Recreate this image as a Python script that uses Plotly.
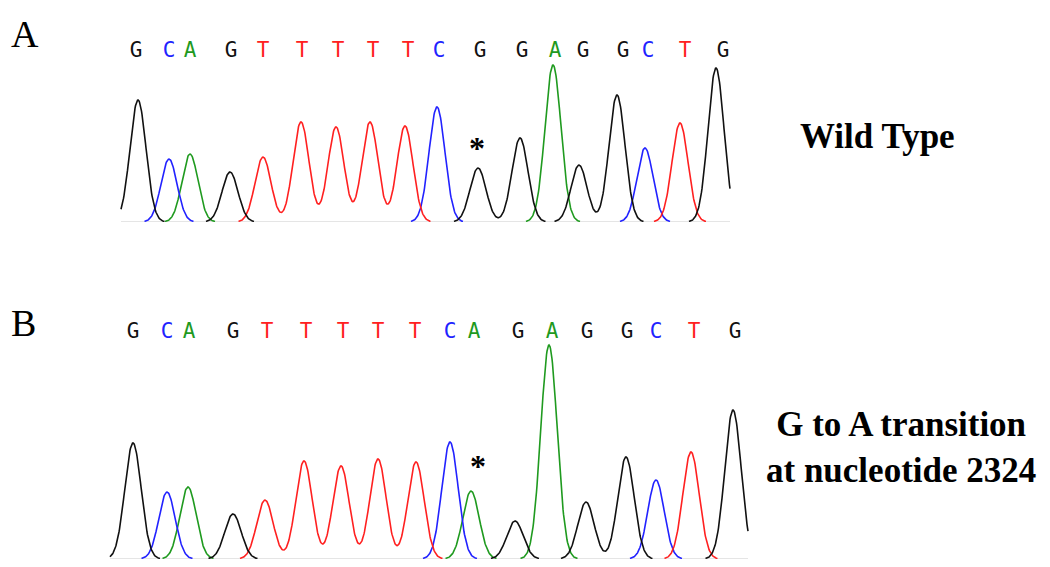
import numpy as np
import plotly.graph_objects as go

# panel A: wild type trace (scan position, peak height, called base)
bases_a = ['G', 'C', 'A', 'G', 'T', 'T', 'T', 'T', 'T', 'C', 'G', 'G', 'A', 'G', 'G', 'C', 'T', 'G']
peak_pos_a = [138, 169, 190, 230, 263, 301, 336, 370, 405, 437, 478, 520, 553, 579, 617, 645, 680, 716]
peak_h_a = [122, 63, 68, 50, 65, 100, 95, 100, 96, 115, 54, 84, 157, 57, 127, 74, 99, 154]
call_pos_a = [136, 169, 190, 231, 263, 302, 338, 373, 408, 439, 480, 522, 555, 583, 623, 648, 685, 723]
scan_range_a = [121, 730]

# panel B: mutant trace
bases_b = ['G', 'C', 'A', 'G', 'T', 'T', 'T', 'T', 'T', 'C', 'A', 'G', 'A', 'G', 'G', 'C', 'T', 'G']
peak_pos_b = [133, 167, 188, 233, 265, 304, 341, 378, 416, 450, 471, 515, 549, 586, 626, 656, 691, 733]
peak_h_b = [116, 67, 72, 45, 59, 98, 93, 100, 97, 117, 68, 38, 214, 57, 102, 79, 107, 149]
call_pos_b = [133, 167, 189, 233, 267, 306, 343, 378, 415, 450, 474, 518, 552, 587, 627, 656, 694, 735]
scan_range_b = [110, 748]

mutation_index = 10  # position marked with the asterisk

base_colors = {'G': '#111111', 'C': '#2222ff', 'A': '#1f9a1f', 'T': '#ff2020'}

# the page body has an 8px margin, so shift everything back by that much
OFF = 8
W, H = 1050, 567


def py(v):
    """page pixel row -> paper fraction"""
    return 1 - (v - OFF) / H


def channel_curves(bases, pos, heights, scan_range, sigma):
    """Build one trace per dye channel as a sum of peaks"""
    x = np.arange(scan_range[0], scan_range[1] + 0.5, 0.5)
    curves = {}
    for b in ['G', 'C', 'A', 'T']:
        y = np.zeros_like(x, dtype=float)
        for base, p, h in zip(bases, pos, heights):
            if base == b:
                y += h * np.exp(-((x - p) ** 2) / (2 * sigma ** 2))
        y[y < 0.5] = np.nan  # leave the flat baseline grey
        curves[b] = y
    return x, curves


fig = go.Figure()

panels = [
    (bases_a, peak_pos_a, peak_h_a, call_pos_a, scan_range_a, 8.0, 'x', 'y', 170),
    (bases_b, peak_pos_b, peak_h_b, call_pos_b, scan_range_b, 8.2, 'x2', 'y2', 226),
]

for bases, pos, heights, calls, rng, sigma, xa, ya, call_y in panels:
    x, curves = channel_curves(bases, pos, heights, rng, sigma)
    # faint baseline
    fig.add_trace(go.Scatter(x=rng, y=[0, 0], mode='lines',
                             line=dict(color='#dcdcdc', width=1.5),
                             xaxis=xa, yaxis=ya, hoverinfo='skip'))
    for b in ['A', 'C', 'T', 'G']:
        fig.add_trace(go.Scatter(x=x, y=curves[b], mode='lines',
                                 line=dict(color=base_colors[b], width=1.6),
                                 xaxis=xa, yaxis=ya, name=b))
    # base calls above the trace
    fig.add_trace(go.Scatter(
        x=calls, y=[call_y] * len(calls), mode='text', text=bases,
        textfont=dict(family='DejaVu Sans Mono, monospace',
                      size=21, color=[base_colors[b] for b in bases]),
        xaxis=xa, yaxis=ya, cliponaxis=False, hoverinfo='skip'))

# asterisks over the mutated position
star_font = dict(family='Liberation Serif', size=32, color='black')
fig.add_annotation(x=call_pos_a[mutation_index] - 3, y=74, xref='x', yref='y', text='<b>*</b>',
                   showarrow=False, yanchor='middle', font=star_font)
fig.add_annotation(x=call_pos_b[mutation_index] + 4, y=93, xref='x2', yref='y2', text='<b>*</b>',
                   showarrow=False, yanchor='middle', font=star_font)

serif = 'Liberation Serif, Times New Roman, serif'
# panel letters hug the left edge
for ly, txt in [(34, 'A'), (323, 'B')]:
    fig.add_annotation(x=OFF + 1, y=py(ly), xref='x', yref='paper', text=txt, showarrow=False,
                       xanchor='left', yanchor='middle',
                       font=dict(family=serif, size=38, color='black'))

labels = [
    (877, 137, '<b>Wild Type</b>'),
    (901, 447, '<b>G to A transition<br>at nucleotide 2324</b>'),
]
for lx, ly, txt in labels:
    fig.add_annotation(x=lx, y=py(ly), xref='x', yref='paper', text=txt, showarrow=False,
                       xanchor='center', yanchor='middle',
                       font=dict(family=serif, size=35, color='black'))

hidden = dict(visible=False, showgrid=False, zeroline=False)
fig.update_layout(
    width=W, height=H,
    margin=dict(l=0, r=0, t=0, b=0),
    paper_bgcolor='white', plot_bgcolor='white',
    showlegend=False,
    xaxis=dict(range=[OFF, W + OFF], domain=[0, 1], anchor='y', **hidden),
    xaxis2=dict(range=[OFF, W + OFF], domain=[0, 1], anchor='y2', **hidden),
    yaxis=dict(range=[0, 222 - OFF], domain=[py(222), 1], anchor='x', **hidden),
    yaxis2=dict(range=[0, 269], domain=[py(559), py(290)], anchor='x2', **hidden),
)

fig.write_html("out.html")
